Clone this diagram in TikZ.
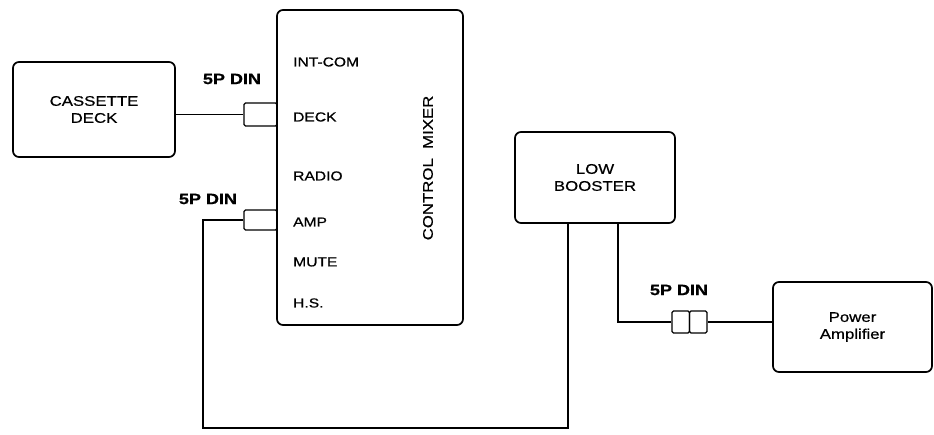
\documentclass[tikz,border=0pt]{standalone}
\usepackage{fontspec}
\setmainfont[FakeStretch=1.2,FakeBold=0.6]{Liberation Sans}
\usetikzlibrary{positioning}

\begin{document}
\begin{tikzpicture}[x=1pt,y=-1pt,
  unit/.style={rectangle,rounded corners=6pt,draw,line width=1.7pt,align=center,inner sep=0pt,font=\fontsize{14}{17}\selectfont},
  plug/.style={rectangle,rounded corners=1.5pt,draw,line width=1.3pt,inner sep=0pt},
  port/.style={anchor=west,inner sep=0pt,font=\fontsize{13}{15}\selectfont},
  din/.style={inner sep=0pt,font=\bfseries\fontsize{15}{17}\selectfont},
  wire/.style={line width=1.4pt}]
  \useasboundingbox (0,0) rectangle (934,435);
  % units
  \node[unit,minimum width=162pt,minimum height=95pt] (cassette) at (94,109.5) {CASSETTE\\DECK};
  \node[unit,minimum width=186pt,minimum height=315pt] (mixer) at (370,167.5) {};
  \node[unit,minimum width=160pt,minimum height=91pt] (booster) at (595,177.5) {LOW\\BOOSTER};
  \node[unit,minimum width=159pt,minimum height=90pt] (poweramp) at (852.5,327) {Power\\Amplifier};
  % mixer panel
  \node[port] (intcom) at (293,62) {INT-COM};
  \node[port] (deck) at (293,117) {DECK};
  \node[port] (radio) at (293,176) {RADIO};
  \node[port] (amp) at (293,222) {AMP};
  \node[port] (mute) at (293,262) {MUTE};
  \node[port] (hs) at (293,303) {H.S.};
  \node[rotate=90,inner sep=0pt,font=\fontsize{14}{17}\selectfont] (mixername) at (428,168) {CONTROL\ \ MIXER};
  % plugs
  \node[plug,minimum width=33pt,minimum height=23pt] (deckplug) at (260.5,114.5) {};
  \node[plug,minimum width=33pt,minimum height=20pt] (ampplug) at (260.5,220) {};
  \node[plug,minimum width=17.5pt,minimum height=22pt] (plugL) at (680.75,322) {};
  \node[plug,minimum width=17.5pt,minimum height=22pt] (plugR) at (698.25,322) {};
  \node[din] (dinA) at (232,79) {5P DIN};
  \node[din] (dinB) at (208,199) {5P DIN};
  \node[din] (dinC) at (679,290) {5P DIN};
  % wiring
  \coordinate (loop) at (203,428);
  \draw[wire] (deckplug.west) -- (deckplug.west -| cassette.east);
  \draw[wire] (ampplug.west) -| (loop) -| ([xshift=-27pt]booster.south);
  \draw[wire] ([xshift=23pt]booster.south) |- (plugL.west);
  \draw[wire] (plugR.east) -- (plugR.east -| poweramp.west);
\end{tikzpicture}
\end{document}
